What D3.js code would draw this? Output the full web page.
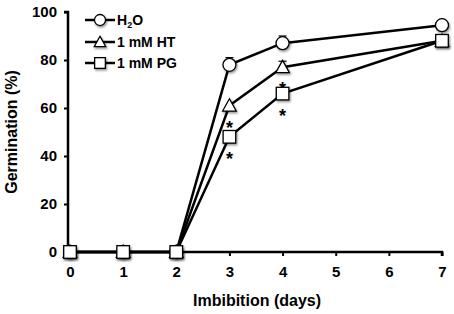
<!DOCTYPE html>
<html lang="en">
<head>
    <meta charset="UTF-8">
    <title>Germination vs imbibition</title>
    <script src="https://d3js.org/d3.v7.min.js"></script>
    <style>
        body { margin: 0; background: #fff; }
        text { font-family: "Liberation Sans", Arial, sans-serif; font-weight: bold; fill: #000; }
    </style>
</head>
<body>
    <div id="chart-container"></div>

    <script>
        // Data
        const days = [0, 1, 2, 3, 4, 7];
        const h2o = [0, 0, 0, 78, 87, 94.5];
        const ht = [0, 0, 0, 61, 77, 88];
        const pg = [0, 0, 0, 48, 66, 88];
        const h2oErr = [0, 0, 0, 3, 3, 0];
        const htErr = [0, 0, 0, 0, 2.5, 0];
        const pgErr = [0, 0, 0, 0, 0, 0];
        const htStars = [3, 4];
        const pgStars = [3, 4];
        const xTicks = [0, 1, 2, 3, 4, 5, 6, 7];
        const yTicks = [0, 20, 40, 60, 80, 100];

        const width = 454;
        const height = 314;

        const svg = d3.select("#chart-container")
            .append("svg")
            .attr("width", width)
            .attr("height", height);

        const defs = svg.append("defs");
        const shadow = defs.append("filter").attr("id", "shadow")
            .attr("x", "-30%").attr("y", "-30%").attr("width", "170%").attr("height", "170%");
        shadow.append("feDropShadow")
            .attr("dx", 1).attr("dy", 1.5).attr("stdDeviation", 0.8)
            .attr("flood-color", "#000").attr("flood-opacity", 0.45);

        const xScale = d3.scaleLinear().domain([0, 7]).range([70, 442]);
        const yScale = d3.scaleLinear().domain([0, 100]).range([252, 12]);

        // axes
        const xAxis = svg.append("g")
            .attr("transform", `translate(0, ${yScale(0)})`)
            .call(d3.axisBottom(xScale).tickValues(xTicks).tickSize(4).tickPadding(10).tickFormat(d3.format("d")));
        const yAxis = svg.append("g")
            .attr("transform", `translate(${xScale(0) - 2}, 0)`)
            .call(d3.axisLeft(yScale).tickValues(yTicks).tickSize(4).tickPadding(7));

        [xAxis, yAxis].forEach(g => {
            g.select(".domain").attr("stroke-width", 2.5).attr("stroke", "#000");
            g.selectAll(".tick line").attr("stroke-width", 2).attr("stroke", "#000");
            g.selectAll(".tick text").attr("font-size", "15px")
                .style("font-family", "'Liberation Sans', Arial, sans-serif")
                .style("font-weight", "bold");
        });
        xAxis.select(".domain").attr("d", `M${xScale(0) - 2},0H${xScale(7)}V4`);
        yAxis.select(".domain").attr("d", `M-4,${yScale(100)}H0V${yScale(0)}`);

        // axis titles
        svg.append("text")
            .attr("x", 257)
            .attr("y", 306)
            .attr("text-anchor", "middle")
            .attr("font-size", "16px")
            .text("Imbibition (days)");
        svg.append("text")
            .attr("transform", `translate(17, 132) rotate(-90)`)
            .attr("text-anchor", "middle")
            .attr("font-size", "16px")
            .text("Germination (%)");

        const series = [
            { name: "H2O", values: h2o, err: h2oErr, shape: "circle", stars: [] },
            { name: "1 mM HT", values: ht, err: htErr, shape: "triangle", stars: htStars },
            { name: "1 mM PG", values: pg, err: pgErr, shape: "square", stars: pgStars }
        ];

        const line = d3.line()
            .x(d => xScale(d.x))
            .y(d => yScale(d.y));

        function drawMarker(g, shape, cx, cy, k) {
            if (shape === "circle") {
                g.append("circle").attr("cx", cx).attr("cy", cy).attr("r", 6.5 * k)
                    .attr("fill", "#fff").attr("stroke", "#000").attr("stroke-width", 1.3)
                    .attr("filter", "url(#shadow)");
            } else if (shape === "square") {
                const h = 6.3 * k;
                g.append("rect").attr("x", cx - h).attr("y", cy - h)
                    .attr("width", 2 * h).attr("height", 2 * h)
                    .attr("fill", "#fff").attr("stroke", "#000").attr("stroke-width", 1.3)
                    .attr("filter", "url(#shadow)");
            } else {
                const s = 6.8 * k;
                g.append("path")
                    .attr("d", `M${cx},${cy - s}L${cx + s},${cy + s * 0.8}L${cx - s},${cy + s * 0.8}Z`)
                    .attr("fill", "#fff").attr("stroke", "#000").attr("stroke-width", 1.3)
                    .attr("filter", "url(#shadow)");
            }
        }

        // lines first
        series.forEach(s => {
            const pts = days.map((d, i) => ({ x: d, y: s.values[i] }));
            svg.append("path")
                .datum(pts)
                .attr("fill", "none")
                .attr("stroke", "#000")
                .attr("stroke-width", 2.5)
                .attr("d", line);
        });

        // error bars, markers, stars
        series.forEach(s => {
            const g = svg.append("g");
            days.forEach((d, i) => {
                const cx = xScale(d);
                const cy = yScale(s.values[i]);
                if (s.err[i] > 0) {
                    const top = yScale(s.values[i] + s.err[i]);
                    g.append("line").attr("x1", cx).attr("x2", cx).attr("y1", cy).attr("y2", top)
                        .attr("stroke", "#000").attr("stroke-width", 1.2);
                    g.append("line").attr("x1", cx - 4).attr("x2", cx + 4).attr("y1", top).attr("y2", top)
                        .attr("stroke", "#000").attr("stroke-width", 1.2);
                }
                drawMarker(g, s.shape, cx, cy, 1);
                if (s.stars.includes(d)) {
                    g.append("text")
                        .attr("x", cx)
                        .attr("y", cy + 28)
                        .attr("text-anchor", "middle")
                        .attr("font-size", "18px")
                        .text("*");
                }
            });
        });

        // legend
        const legend = svg.append("g");
        const rowY = [20, 42, 63];
        series.forEach((s, i) => {
            legend.append("line")
                .attr("x1", 85).attr("x2", 115)
                .attr("y1", rowY[i]).attr("y2", rowY[i])
                .attr("stroke", "#000").attr("stroke-width", 2.5);
            drawMarker(legend, s.shape, 100, rowY[i], 0.85);
            const t = legend.append("text")
                .attr("x", 117)
                .attr("y", rowY[i] + 5)
                .attr("font-size", "14px");
            if (s.name === "H2O") {
                t.append("tspan").text("H");
                t.append("tspan").attr("font-size", "9px").attr("dy", 3).text("2");
                t.append("tspan").attr("dy", -3).text("O");
            } else {
                t.text(s.name);
            }
        });
    </script>
</body>
</html>
